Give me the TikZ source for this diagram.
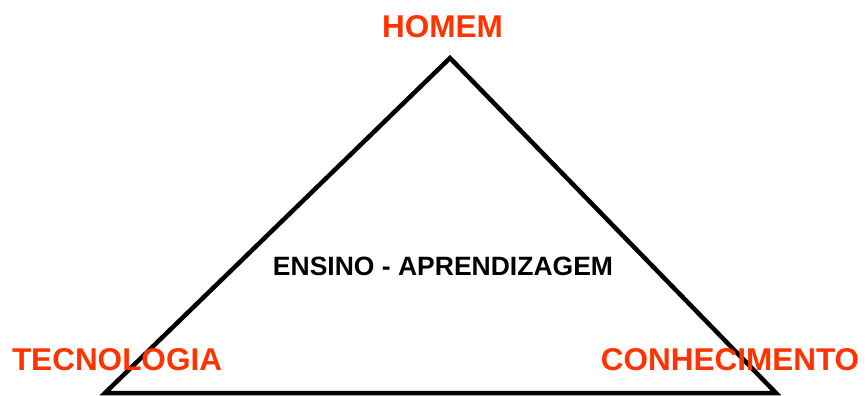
\documentclass[tikz,border=0pt]{standalone}
\usepackage{fontspec}
\setmainfont{Liberation Sans}
\definecolor{vermelho}{RGB}{255,51,0}

\begin{document}
\begin{tikzpicture}[x=1pt, y=-1pt, canto/.style = {text = vermelho, font = \bfseries\fontsize{31.5}{32}\selectfont, inner sep = 0pt}, centro/.style = {font = \bfseries\fontsize{26.5}{27}\selectfont, inner sep = 0pt}]
	\useasboundingbox (0,0) rectangle (868,396);
	\coordinate (h) at (450,58);
	\coordinate (t) at (105,393);
	\coordinate (c) at (776,393);
	\draw[line width = 4.5pt, miter limit = 10] (h) -- (t) -- (c) -- cycle;
	\node[canto] (homem) at (442.5,27) {HOMEM};
	\node[canto] (tec) at (117,360) {TECNOLOGIA};
	\node[canto] (con) at (730,360) {CONHECIMENTO};
	\node[centro] (ea) at (443,266) {ENSINO - APRENDIZAGEM};
\end{tikzpicture}
\end{document}
